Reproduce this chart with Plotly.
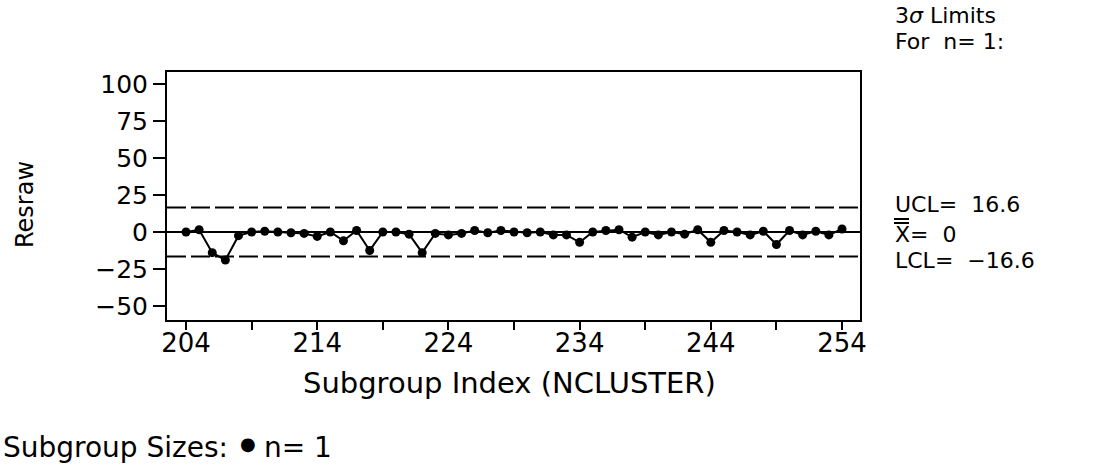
import plotly.graph_objects as go

# ---- data ----
subgroup_index = list(range(204, 255))
resraw = [0, 1.5, -14, -19, -2.5, 0, 0.5, 0, -0.5, -1,
          -3, 0, -6, 1, -12.5, 0, 0, -1.5, -14, -1,
          -2, -1, 1, -0.5, 1, 0, -0.5, 0, -2, -2,
          -7, 0, 1, 1.5, -3.5, 0, -2, 0, -1.5, 1.5,
          -7, 1, 0, -2, 0.5, -8.5, 1, -2, 0.5, -2,
          2]
ucl = 16.6
center = 0
lcl = -16.6
y_ticks = [-50, -25, 0, 25, 50, 75, 100]
y_ticktext = ["\u221250", "\u221225", "0", "25", "50", "75", "100"]
x_ticks = list(range(204, 255, 5))
x_ticktext = [str(v) if (v - 204) % 10 == 0 else "" for v in x_ticks]

FONT = "DejaVu Sans"

W, H = 1097, 473
FL, FR, FT, FB = 167, 860, 72, 320          # plot frame in pixels
PW, PH = FR - FL, FB - FT
L, T = FL, FT
R, B = W - FR, H - FB


def px(x):
    return (x - FL) / PW


def py(y):
    return (FB - y) / PH


fig = go.Figure()

fig.add_trace(go.Scatter(
    x=subgroup_index, y=resraw, mode="lines+markers",
    line=dict(color="black", width=2),
    marker=dict(color="black", size=9, symbol="circle"),
    showlegend=False, hoverinfo="x+y",
))

# control limit lines
for val in (ucl, lcl):
    fig.add_shape(type="line", xref="paper", x0=0, x1=1, yref="y", y0=val, y1=val,
                  line=dict(color="black", width=2, dash="19px,5px"))
fig.add_shape(type="line", xref="paper", x0=0, x1=1, yref="y", y0=center, y1=center,
              line=dict(color="black", width=2))

# double bar over X
for yb in (219, 223):
    fig.add_shape(type="line", xref="paper", yref="paper",
                  x0=px(894), x1=px(909), y0=py(yb), y1=py(yb),
                  line=dict(color="black", width=2))

ann_font = dict(family=FONT, size=22, color="black")
head_font = dict(family=FONT, size=22, color="black")
anns = [
    dict(x=px(893), y=py(16), xref="paper", yref="paper", text="3<i>σ</i> Limits",
         xanchor="left", yanchor="middle", showarrow=False, font=head_font),
    dict(x=px(893), y=py(41), xref="paper", yref="paper", text="For  n= 1:",
         xanchor="left", yanchor="middle", showarrow=False, font=head_font),
    dict(x=px(893), y=ucl, xref="paper", yref="y", text="UCL=  16.6", yshift=3,
         xanchor="left", yanchor="middle", showarrow=False, font=ann_font),
    dict(x=px(893), y=center, xref="paper", yref="y", text="X=  0", yshift=-3,
         xanchor="left", yanchor="middle", showarrow=False, font=ann_font),
    dict(x=px(893), y=lcl, xref="paper", yref="y", text="LCL=  \u221216.6", yshift=-4,
         xanchor="left", yanchor="middle", showarrow=False, font=ann_font),
    dict(x=px(25), y=py(205), xref="paper", yref="paper", text="Resraw",
         textangle=-90, xanchor="center", yanchor="middle", showarrow=False,
         font=dict(family=FONT, size=24, color="black")),
    dict(x=px(509), y=py(383), xref="paper", yref="paper",
         text="Subgroup Index (NCLUSTER)", xanchor="center", yanchor="middle",
         showarrow=False, font=dict(family=FONT, size=29, color="black")),
    dict(x=px(1), y=py(447), xref="paper", yref="paper", text="Subgroup Sizes:",
         xanchor="left", yanchor="middle", showarrow=False,
         font=dict(family=FONT, size=28, color="black")),
    dict(x=px(248), y=py(443), xref="paper", yref="paper", text="●",
         xanchor="center", yanchor="middle", showarrow=False,
         font=dict(family=FONT, size=18, color="black")),
    dict(x=px(262), y=py(447), xref="paper", yref="paper", text="n= 1",
         xanchor="left", yanchor="middle", showarrow=False,
         font=dict(family=FONT, size=28, color="black")),
]

fig.update_layout(
    width=W, height=H,
    margin=dict(l=L, r=R, t=T, b=B, pad=0),
    paper_bgcolor="white", plot_bgcolor="white",
    annotations=anns,
    xaxis=dict(range=[202.55, 255.37], tickvals=x_ticks, ticktext=x_ticktext,
               ticks="outside", ticklen=8, tickwidth=2, tickcolor="black",
               ticklabelstandoff=-9,
               showline=True, linecolor="black", linewidth=2, mirror=True,
               showgrid=False, zeroline=False,
               tickfont=dict(family=FONT, size=26, color="black")),
    yaxis=dict(range=[-59.5, 108.1], tickvals=y_ticks, ticktext=y_ticktext,
               ticks="outside", ticklen=12, tickwidth=2, tickcolor="black",
               showline=True, linecolor="black", linewidth=2, mirror=True,
               showgrid=False, zeroline=False,
               tickfont=dict(family=FONT, size=25, color="black")),
)

fig.write_html("out.html", config={"displayModeBar": False},
               post_script="document.body.style.margin='0';document.body.style.overflow='hidden';")
